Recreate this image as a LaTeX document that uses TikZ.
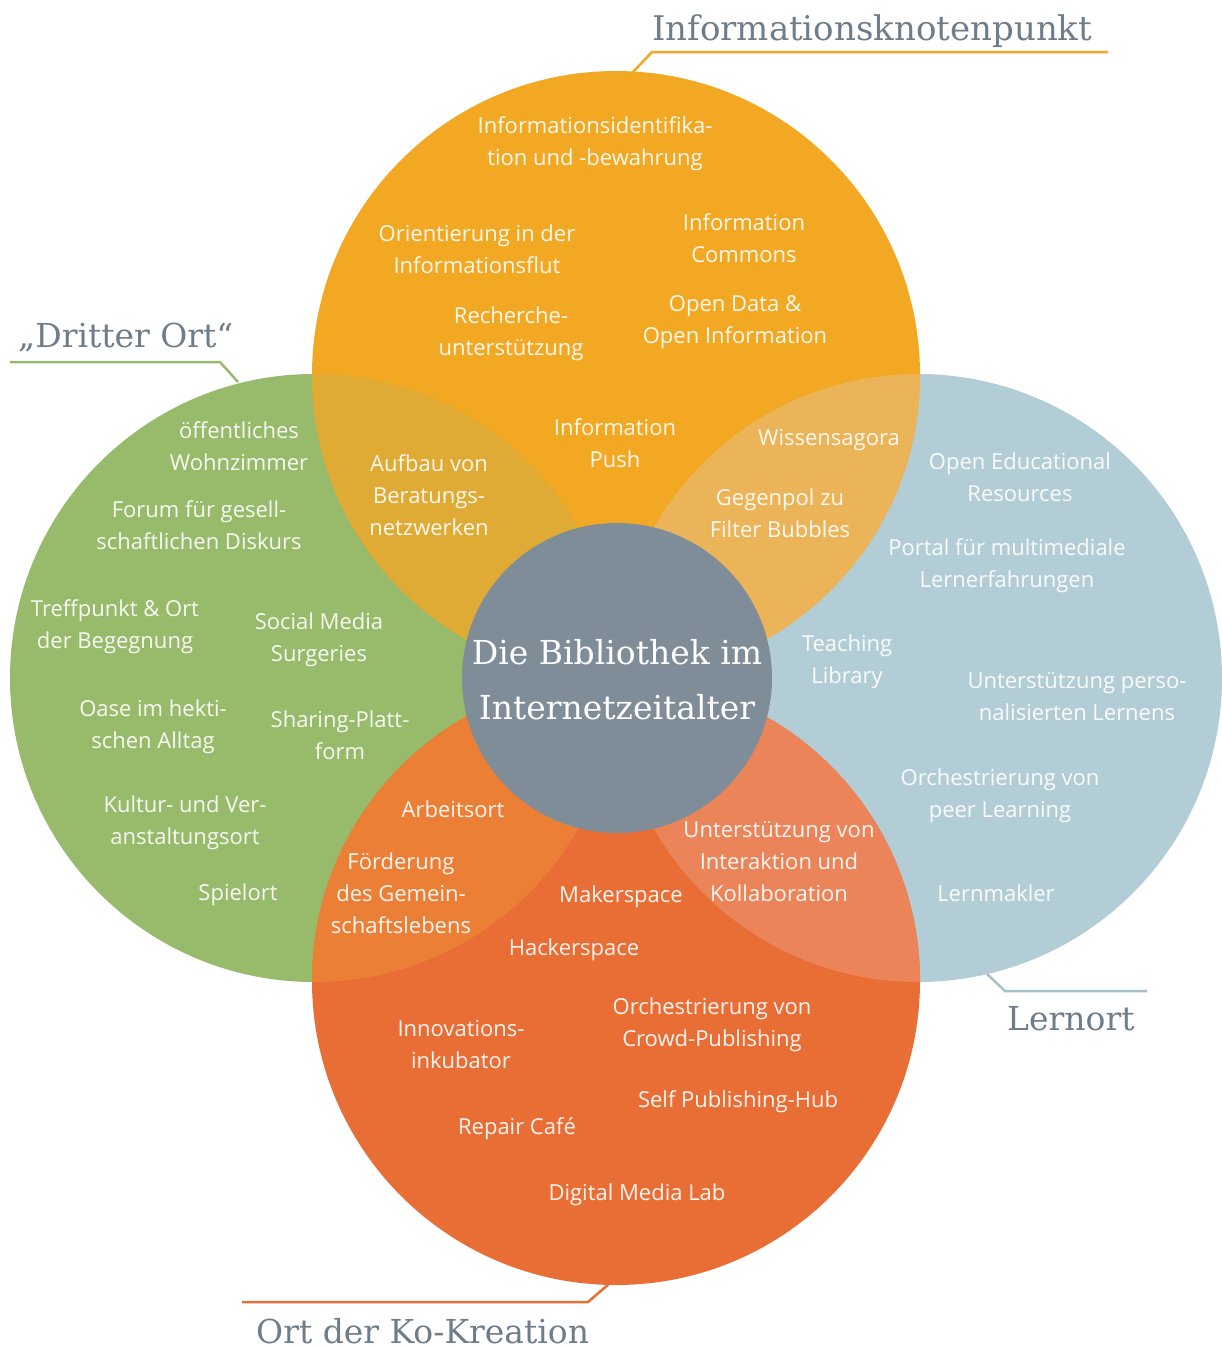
\documentclass[tikz,border=0pt]{standalone}
\usepackage{fontspec}
\setmainfont{Open Sans}
\newfontfamily\slabfont{DejaVu Serif}
\definecolor{infoorange}{RGB}{242,168,34}
\definecolor{ortgreen}{RGB}{151,186,107}
\definecolor{lernblue}{RGB}{179,205,214}
\definecolor{kokred}{RGB}{233,110,53}
\definecolor{ovTL}{RGB}{224,171,52}
\definecolor{ovTR}{RGB}{235,180,88}
\definecolor{ovBL}{RGB}{236,127,54}
\definecolor{ovBR}{RGB}{236,132,90}
\definecolor{centregrey}{RGB}{127,141,153}
\definecolor{labelgrey}{RGB}{110,125,138}
\definecolor{lernline}{RGB}{165,192,203}
\tikzset{
  txt/.style={text=white, text opacity=0.92, align=center, inner sep=0pt, font=\fontsize{22}{32}\selectfont},
  lbl/.style={text=labelgrey, inner sep=0pt, anchor=base west, font=\slabfont\fontsize{33}{40}\selectfont},
  labelline/.style={line width=2.5pt}
}
\begin{document}
\begin{tikzpicture}[x=1pt,y=-1pt]
\useasboundingbox (0,0) rectangle (1222,1349);
% die vier Kreise
\fill[ortgreen] (314,678) circle[radius=304pt];
\fill[lernblue] (918,678) circle[radius=304pt];
\fill[infoorange] (616,375) circle[radius=304pt];
\fill[kokred] (616,981) circle[radius=304pt];
% Schnittflaechen
\begin{scope}
\clip (314,678) circle[radius=304pt];
\fill[ovTL] (616,375) circle[radius=304pt];
\fill[ovBL] (616,981) circle[radius=304pt];
\end{scope}
\begin{scope}
\clip (918,678) circle[radius=304pt];
\fill[ovTR] (616,375) circle[radius=304pt];
\fill[ovBR] (616,981) circle[radius=304pt];
\end{scope}
\fill[centregrey] (617,678) circle[radius=155pt];
\node[text=white, align=center, inner sep=0pt, font=\slabfont\fontsize{33}{55}\selectfont] (mitte) at (617,680) {Die Bibliothek im\\Internetzeitalter};

% Beschriftungen
\coordinate (infoFoot) at (633,72);
\coordinate (infoKnee) at (652,52);
\coordinate (infoEnd) at (1108,52);
\draw[labelline, infoorange] (infoFoot) -- (infoKnee) -- (infoEnd);
\node[lbl, font=\slabfont\fontsize{34}{40}\selectfont] (info) at (652,40) {Informationsknotenpunkt};

\coordinate (ortEnd) at (10,362);
\coordinate (ortKnee) at (220,362);
\coordinate (ortFoot) at (238,382);
\draw[labelline, ortgreen] (ortEnd) -- (ortKnee) -- (ortFoot);
\node[lbl] (ort) at (18,347) {„Dritter Ort“};

\coordinate (lernFoot) at (987,974);
\coordinate (lernKnee) at (1005,991);
\coordinate (lernEnd) at (1147,991);
\draw[labelline, lernline] (lernFoot) -- (lernKnee) -- (lernEnd);
\node[lbl] (lern) at (1007,1030) {Lernort};

\coordinate (kokEnd) at (242,1302);
\coordinate (kokKnee) at (588,1302);
\coordinate (kokFoot) at (610,1283);
\draw[labelline, kokred] (kokEnd) -- (kokKnee) -- (kokFoot);
\node[lbl] (kok) at (256,1343) {Ort der Ko-Kreation};

% Informationsknotenpunkt
\path (595,144) node[txt] (i1) {Informationsidentifika-\\tion und -bewahrung}
(477,249) node[txt] (i2) {Orientierung in der\\Informationsflut}
(744,238) node[txt] (i3) {Information\\Commons}
(511,334) node[txt] (i4) {Recherche-\\unterstützung}
(735,322) node[txt] (i5) {Open Data \&\\Open Information}
(615,443) node[txt] (i6) {Information\\Push}
(429,495) node[txt] (i7) {Aufbau von\\Beratungs-\\netzwerken}
(829,440) node[txt] (i8) {Wissensagora}
(780,513) node[txt] (i9) {Gegenpol zu\\Filter Bubbles};

% Dritter Ort
\path (239,446) node[txt] (o1) {öffentliches\\Wohnzimmer}
(199,525) node[txt] (o2) {Forum für gesell-\\schaftlichen Diskurs}
(115,627) node[txt] (o3) {Treffpunkt \& Ort\\der Begegnung}
(319,640) node[txt] (o4) {Social Media\\Surgeries}
(153,727) node[txt] (o5) {Oase im hekti-\\schen Alltag}
(340,735) node[txt] (o6) {Sharing-Platt-\\form}
(185,823) node[txt] (o7) {Kultur- und Ver-\\anstaltungsort}
(238,895) node[txt] (o8) {Spielort};

% Lernort
\path (1020,477) node[txt] (l1) {Open Educational\\Resources}
(1007,566) node[txt] (l2) {Portal für multimediale\\Lernerfahrungen}
(847,662) node[txt] (l3) {Teaching\\Library}
(1077,697) node[txt] (l4) {Unterstützung perso-\\nalisierten Lernens}
(1000,796) node[txt] (l5) {Orchestrierung von\\peer Learning}
(996,893) node[txt] (l6) {Lernmakler};

% Ort der Ko-Kreation
\path (453,809) node[txt] (k1) {Arbeitsort}
(401,893) node[txt] (k2) {Förderung\\des Gemein-\\schaftslebens}
(779,862) node[txt] (k3) {Unterstützung von\\Interaktion und\\Kollaboration}
(621,897) node[txt] (k4) {Makerspace}
(574,950) node[txt] (k5) {Hackerspace}
(461,1045) node[txt] (k6) {Innovations-\\inkubator}
(712,1025) node[txt] (k7) {Orchestrierung von\\Crowd-Publishing}
(738,1102) node[txt] (k8) {Self Publishing-Hub}
(517,1129) node[txt] (k9) {Repair Café}
(637,1195) node[txt] (k10) {Digital Media Lab};
\end{tikzpicture}
\end{document}
